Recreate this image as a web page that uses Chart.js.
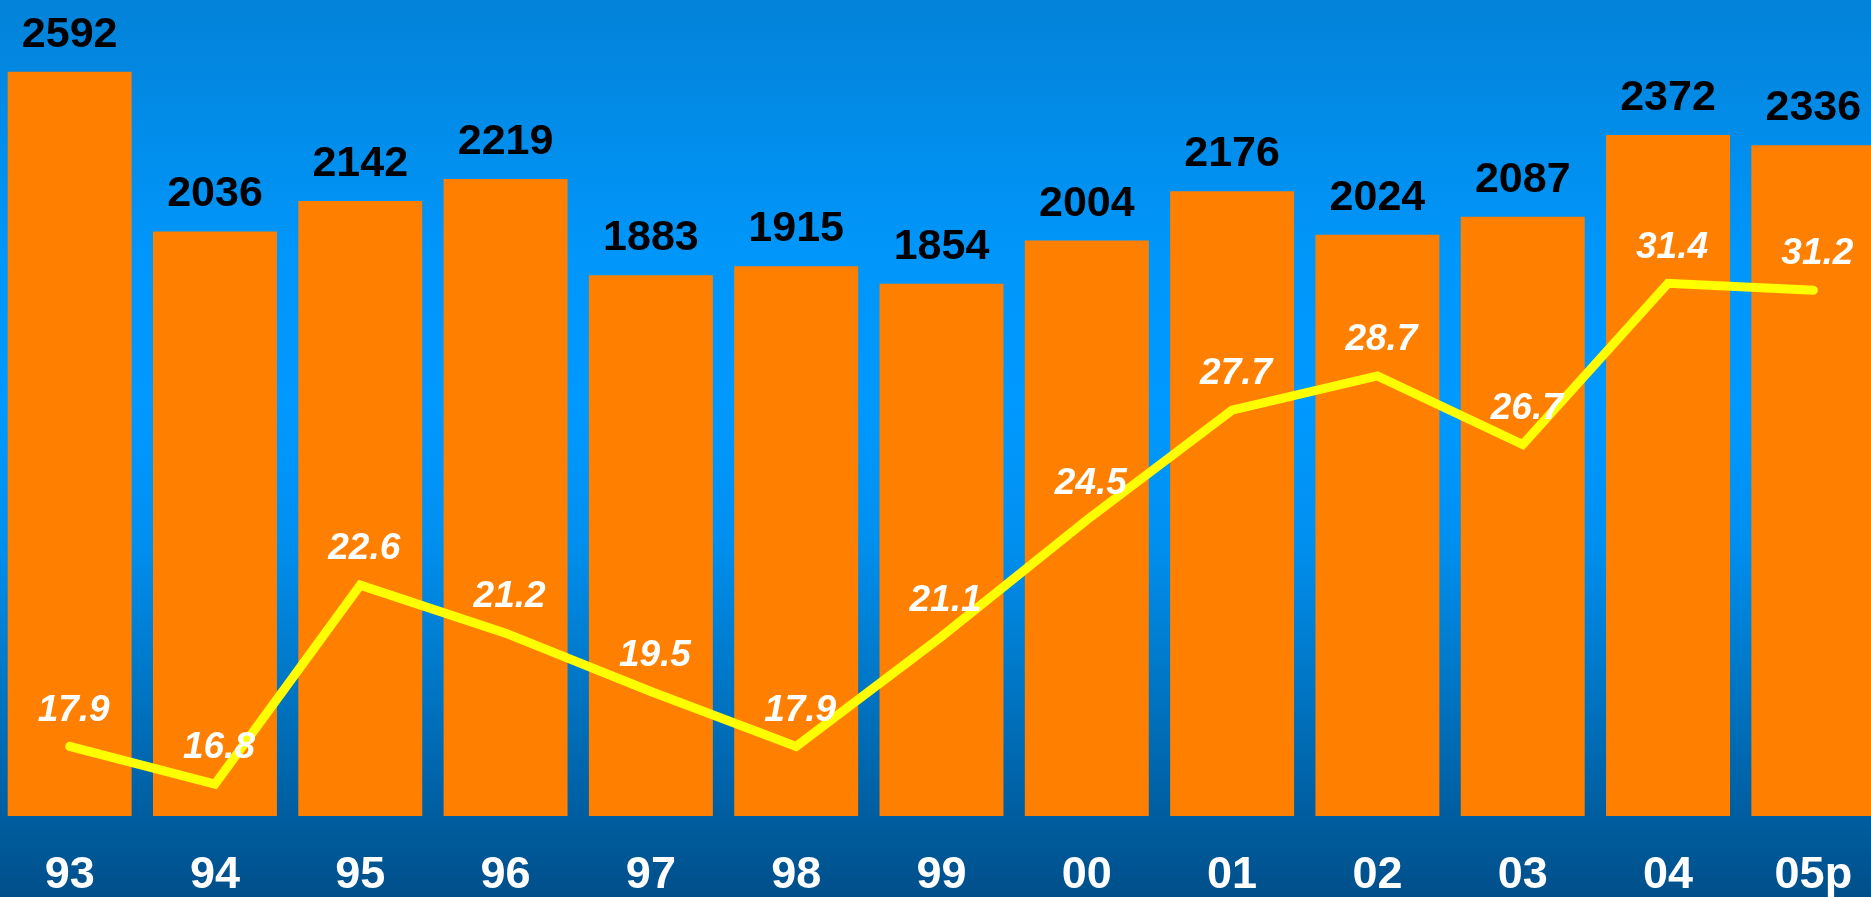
<!DOCTYPE html>
<html>
<head>
<meta charset="utf-8">
<script src="https://cdn.jsdelivr.net/npm/chart.js@4.4.1/dist/chart.umd.min.js"></script>
<style>
html, body { margin:0; padding:0; overflow:hidden; width:1871px; height:897px; }
#wrap { position:absolute; left:-3px; top:0; width:1889px; height:897px; }
</style>
</head>
<body>
<div id="wrap"><canvas id="myChart"></canvas></div>
<script>
///data
var years = ['93','94','95','96','97','98','99','00','01','02','03','04','05p'];
var bar_values = [2592,2036,2142,2219,1883,1915,1854,2004,2176,2024,2087,2372,2336];
var line_values = [17.9,16.8,22.6,21.2,19.5,17.9,21.1,24.5,27.7,28.7,26.7,31.4,31.2];

var bar_font = 'bold 43px "Liberation Sans", Arial, sans-serif';
var line_font = 'italic bold 37px "Liberation Sans", Arial, sans-serif';

//background gradient behind everything
var background_plugin = {
    id: 'background',
    beforeDraw: function(chart){
        var ctx = chart.ctx;
        var g = ctx.createLinearGradient(0, 0, 0, chart.height);
        g.addColorStop(0, '#0382d8');
        g.addColorStop(0.28, '#0096fa');
        g.addColorStop(0.45, '#0099ff');
        g.addColorStop(0.6, '#0090f0');
        g.addColorStop(0.75, '#0078c8');
        g.addColorStop(0.9, '#005fa2');
        g.addColorStop(1, '#004f8a');
        ctx.save();
        ctx.fillStyle = g;
        ctx.fillRect(0, 0, chart.width, chart.height);
        ctx.restore();
    }
};

//value labels for bars and line
var labels_plugin = {
    id: 'valueLabels',
    afterDatasetsDraw: function(chart){
        var ctx = chart.ctx;
        ctx.save();
        ctx.textAlign = 'center';

        var bars = chart.getDatasetMeta(0).data;
        ctx.font = bar_font;
        ctx.fillStyle = '#000000';
        ctx.textBaseline = 'alphabetic';
        bars.forEach(function(bar, i){
            ctx.fillText(String(bar_values[i]), bar.x, bar.y - 25);
        });

        var pts = chart.getDatasetMeta(1).data;
        ctx.font = line_font;
        ctx.fillStyle = '#ffffff';
        ctx.textBaseline = 'middle';
        pts.forEach(function(p, i){
            ctx.fillText(line_values[i].toFixed(1), p.x + 4, p.y - 36);
        });
        ctx.restore();
    }
};

var ctx = document.getElementById('myChart').getContext('2d');
var myChart = new Chart(ctx, {
    type: 'bar',
    data: {
        labels: years,
        datasets: [{
            type: 'bar',
            data: bar_values,
            backgroundColor: '#ff8000',
            borderWidth: 0,
            barPercentage: 0.853,
            categoryPercentage: 1,
            yAxisID: 'y',
            order: 1
        }, {
            type: 'line',
            data: line_values,
            borderColor: '#ffff00',
            borderWidth: 9,
            borderCapStyle: 'round',
            borderJoinStyle: 'miter',
            pointRadius: 0,
            tension: 0,
            yAxisID: 'y2',
            order: 0
        }]
    },
    options: {
        responsive: true,
        maintainAspectRatio: false,
        animation: false,
        layout: { padding: 0 },
        plugins: {
            legend: { display: false },
            tooltip: { enabled: false }
        },
        scales: {
            x: {
                grid: { display: false, drawTicks: false },
                border: { display: false },
                ticks: {
                    color: '#ffffff',
                    padding: 33,
                    font: { family: '"Liberation Sans", Arial, sans-serif', weight: 'bold', size: 45 }
                },
                afterFit: function(scale){ scale.height = 81; }
            },
            y: { display: false, min: 0, max: 2842 },
            y2: { display: false, min: 15.87, max: 39.66, position: 'right' }
        }
    },
    plugins: [background_plugin, labels_plugin]
});
</script>
</body>
</html>
